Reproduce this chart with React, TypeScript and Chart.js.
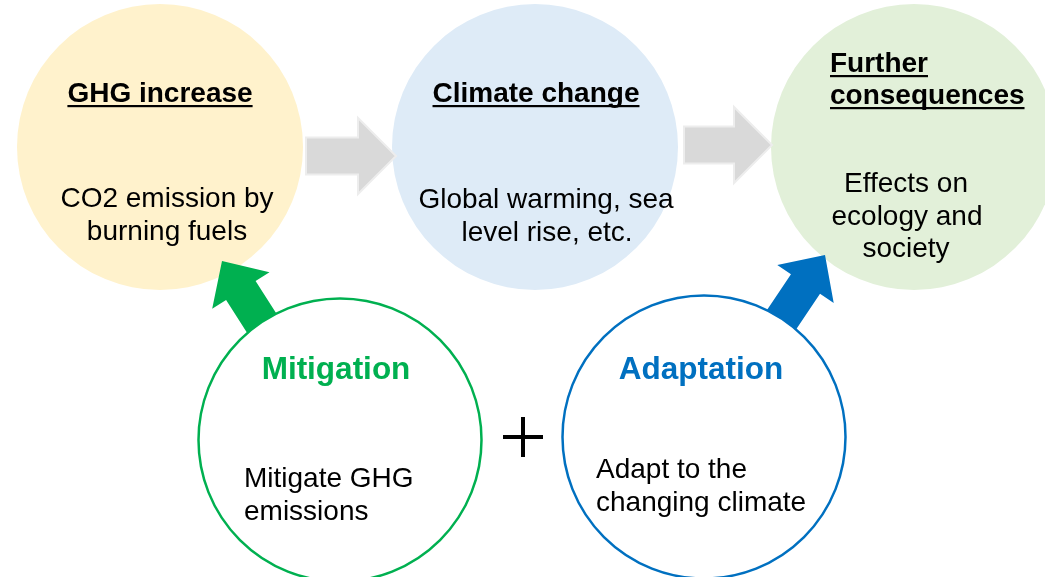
import React, { useEffect, useRef } from "react";
import { Chart, registerables } from "chart.js";

Chart.register(...registerables);

// ---- diagram data (diagram units = scale units) ----
const nodeNames = ["GHG increase", "Climate change", "Further consequences"];
const nodeX = [160, 535, 914];
const nodeY = [147, 147, 147];
const nodeColors = ["#FFF2CC", "#DEEBF7", "#E2F0D9"];

const actionNames = ["Mitigation", "Adaptation"];
const actionX = [340, 704];
const actionY = [440, 437];
const actionColors = ["#00B050", "#0070C0"];

// colored arrows: from action circle towards node circle
const actionArrowTail = [
  { x: 268, y: 333 },
  { x: 778, y: 325 },
];
const actionArrowTip = [
  { x: 222, y: 261 },
  { x: 825, y: 255 },
];

// grey flow arrows between node circles
const flowArrowTail = [
  { x: 306, y: 156 },
  { x: 684, y: 145 },
];
const flowArrowTip = [
  { x: 396, y: 156 },
  { x: 772, y: 145 },
];

const FONT = "'Liberation Sans', Arial, Helvetica, sans-serif";

type TextItem = {
  text: string;
  x: number;
  y: number;
  align: CanvasTextAlign;
  bold?: boolean;
  size: number;
  color: string;
  underline?: boolean;
};

const texts: TextItem[] = [
  { text: "GHG increase", x: 160, y: 102, align: "center", bold: true, size: 28, color: "#000", underline: true },
  { text: "CO2 emission by", x: 167, y: 207, align: "center", size: 28, color: "#000" },
  { text: "burning fuels", x: 167, y: 240, align: "center", size: 28, color: "#000" },
  { text: "Climate change", x: 536, y: 102, align: "center", bold: true, size: 28, color: "#000", underline: true },
  { text: "Global warming, sea", x: 546, y: 208, align: "center", size: 28, color: "#000" },
  { text: "level rise, etc.", x: 547, y: 241, align: "center", size: 28, color: "#000" },
  { text: "Further", x: 830, y: 72, align: "left", bold: true, size: 28, color: "#000", underline: true },
  { text: "consequences", x: 830, y: 104, align: "left", bold: true, size: 28, color: "#000", underline: true },
  { text: "Effects on", x: 906, y: 192, align: "center", size: 28, color: "#000" },
  { text: "ecology and", x: 907, y: 224.5, align: "center", size: 28, color: "#000" },
  { text: "society", x: 906, y: 257, align: "center", size: 28, color: "#000" },
  { text: "Mitigation", x: 336, y: 379, align: "center", bold: true, size: 31.5, color: "#00B050" },
  { text: "Mitigate GHG", x: 244, y: 487, align: "left", size: 28, color: "#000" },
  { text: "emissions", x: 244, y: 520, align: "left", size: 28, color: "#000" },
  { text: "Adaptation", x: 701, y: 379, align: "center", bold: true, size: 31.5, color: "#0070C0" },
  { text: "Adapt to the", x: 596, y: 478, align: "left", size: 28, color: "#000" },
  { text: "changing climate", x: 596, y: 511, align: "left", size: 28, color: "#000" },
];

function arrowPath(
  ctx: CanvasRenderingContext2D,
  t: { x: number; y: number },
  p: { x: number; y: number },
  shaftW: number,
  headW: number,
  headL: number
) {
  const dx = p.x - t.x;
  const dy = p.y - t.y;
  const len = Math.hypot(dx, dy);
  const ux = dx / len;
  const uy = dy / len;
  const nx = -uy;
  const ny = ux;
  const bx = p.x - ux * headL;
  const by = p.y - uy * headL;
  ctx.beginPath();
  ctx.moveTo(t.x + (nx * shaftW) / 2, t.y + (ny * shaftW) / 2);
  ctx.lineTo(bx + (nx * shaftW) / 2, by + (ny * shaftW) / 2);
  ctx.lineTo(bx + (nx * headW) / 2, by + (ny * headW) / 2);
  ctx.lineTo(p.x, p.y);
  ctx.lineTo(bx - (nx * headW) / 2, by - (ny * headW) / 2);
  ctx.lineTo(bx - (nx * shaftW) / 2, by - (ny * shaftW) / 2);
  ctx.lineTo(t.x - (nx * shaftW) / 2, t.y - (ny * shaftW) / 2);
  ctx.closePath();
}

const diagramPlugin = {
  id: "diagram",
  beforeDatasetDraw(chart: any, args: any) {
    if (args.index !== 1) return;
    const ctx: CanvasRenderingContext2D = chart.ctx;
    const xs = chart.scales.x;
    const ys = chart.scales.y;
    ctx.save();
    actionArrowTail.forEach((tail, i) => {
      const t = { x: xs.getPixelForValue(tail.x), y: ys.getPixelForValue(tail.y) };
      const p = {
        x: xs.getPixelForValue(actionArrowTip[i].x),
        y: ys.getPixelForValue(actionArrowTip[i].y),
      };
      arrowPath(ctx, t, p, 35, 68, 35);
      ctx.fillStyle = actionColors[i];
      ctx.fill();
    });
    ctx.restore();
  },
  afterDatasetsDraw(chart: any) {
    const ctx: CanvasRenderingContext2D = chart.ctx;
    const xs = chart.scales.x;
    const ys = chart.scales.y;
    ctx.save();
    // grey flow arrows
    flowArrowTail.forEach((tail, i) => {
      const t = { x: xs.getPixelForValue(tail.x), y: ys.getPixelForValue(tail.y) };
      const p = {
        x: xs.getPixelForValue(flowArrowTip[i].x),
        y: ys.getPixelForValue(flowArrowTip[i].y),
      };
      arrowPath(ctx, t, p, 37, 76, 38);
      ctx.fillStyle = "#D9D9D9";
      ctx.fill();
      ctx.strokeStyle = "#EDEDED";
      ctx.lineWidth = 2;
      ctx.lineJoin = "miter";
      ctx.stroke();
    });
    // plus sign between the two action circles
    const cx = xs.getPixelForValue((actionX[0] + actionX[1]) / 2 + 1);
    const cy = ys.getPixelForValue(437);
    ctx.strokeStyle = "#000";
    ctx.lineWidth = 4;
    ctx.beginPath();
    ctx.moveTo(cx - 20, cy);
    ctx.lineTo(cx + 20, cy);
    ctx.moveTo(cx, cy - 20);
    ctx.lineTo(cx, cy + 20);
    ctx.stroke();
    // texts
    ctx.textBaseline = "alphabetic";
    texts.forEach((t) => {
      ctx.font = `${t.bold ? "bold " : ""}${t.size}px ${FONT}`;
      ctx.textAlign = t.align;
      ctx.fillStyle = t.color;
      const px = xs.getPixelForValue(t.x);
      const py = ys.getPixelForValue(t.y);
      ctx.fillText(t.text, px, py);
      if (t.underline) {
        const w = ctx.measureText(t.text).width;
        const x0 = t.align === "center" ? px - w / 2 : t.align === "right" ? px - w : px;
        ctx.fillRect(x0, py + 3, w, 2.2);
      }
    });
    ctx.restore();
  },
};

export default function App() {
  const ref = useRef<HTMLCanvasElement | null>(null);
  useEffect(() => {
    if (!ref.current) return;
    const chart = new Chart(ref.current, {
      type: "bubble",
      data: {
        datasets: [
          {
            label: "nodes",
            order: 2,
            clip: false,
            data: nodeNames.map((_, i) => ({ x: nodeX[i], y: nodeY[i], r: 143 })),
            backgroundColor: nodeColors,
            borderWidth: 0,
          },
          {
            label: "actions",
            order: 1,
            clip: false,
            data: actionNames.map((_, i) => ({ x: actionX[i], y: actionY[i], r: 141.5 })),
            backgroundColor: "#FFFFFF",
            borderColor: actionColors,
            borderWidth: 2.5,
          },
        ],
      },
      options: {
        animation: false,
        responsive: false,
        maintainAspectRatio: false,
        layout: { padding: 0, autoPadding: false },
        events: [],
        plugins: {
          legend: { display: false },
          tooltip: { enabled: false },
        },
        scales: {
          x: { type: "linear", min: 0, max: 1045, display: false },
          y: { type: "linear", min: 0, max: 577, reverse: true, display: false },
        },
      },
      plugins: [diagramPlugin],
    });
    return () => chart.destroy();
  }, []);
  return (
    <div style={{ position: "fixed", left: 0, top: 0, width: 1045, height: 577, background: "#fff" }}>
      <canvas ref={ref} width={1045} height={577} style={{ width: 1045, height: 577, display: "block" }} />
    </div>
  );
}
